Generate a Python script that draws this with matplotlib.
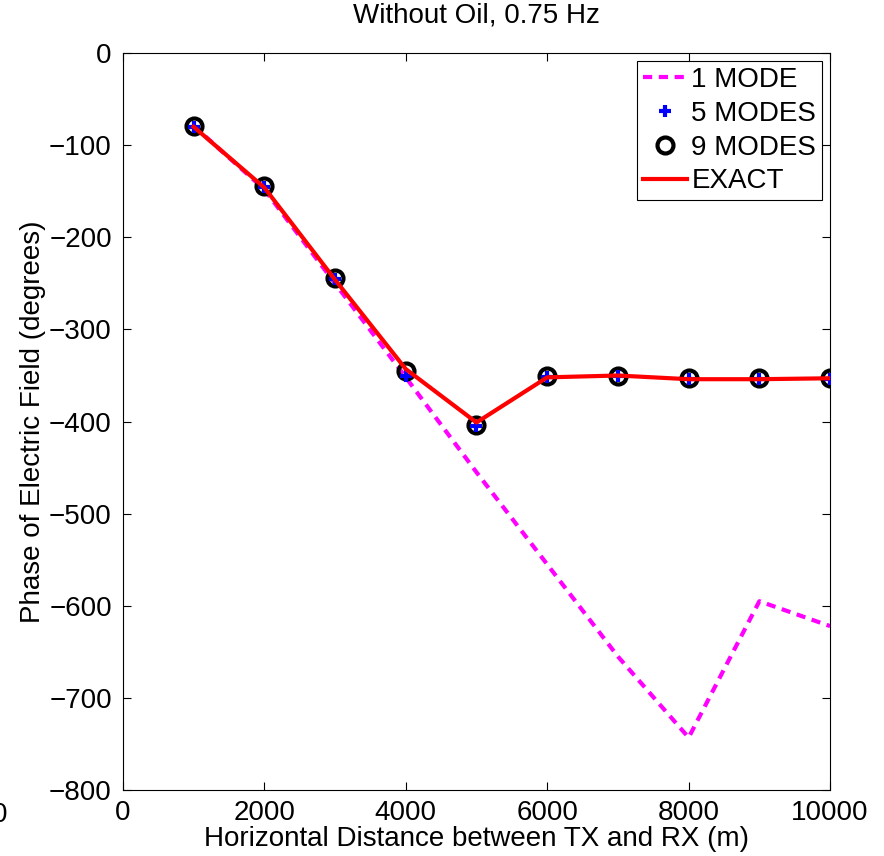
import matplotlib.pyplot as plt
import numpy as np

plt.rcParams['font.family'] = ['Liberation Sans', 'DejaVu Sans']

dist = [1000, 2000, 3000, 4000, 5000, 6000, 7000, 8000, 9000, 10000]
mode1 = [-79, -148, -250, -352, -455, -555, -655, -743, -595, -622]
mode5 = [-80, -145, -245, -350, -405, -352, -351, -354, -354, -354]
mode9 = [-79, -144, -244, -345, -404, -351, -350, -353, -353, -353]
exact = [-80, -146, -246, -343, -401, -352, -350, -354, -354, -353]

xticks = [0, 2000, 4000, 6000, 8000, 10000]
yticks = [0, -100, -200, -300, -400, -500, -600, -700, -800]

fig = plt.figure(figsize=(8.84, 8.56), dpi=100)
ax = fig.add_axes([0.139, 0.077, 0.8, 0.861])

ax.plot(dist, mode1, color='#ff00ff', linestyle=(0, (2.2, 1.6)), linewidth=3, label='1 MODE', zorder=2)
ax.plot(dist, mode5, linestyle='none', marker='+', color='blue', markersize=8, markeredgewidth=3, label='5 MODES', zorder=4)
ax.plot(dist, mode9, linestyle='none', marker='o', markerfacecolor='none', markeredgecolor='black', markersize=11.5, markeredgewidth=3, label='9 MODES', zorder=3)
ax.plot(dist, exact, color='red', linewidth=3, label='EXACT', zorder=5)

ax.set_xlim(0, 10000)
ax.set_ylim(-800, 0)
ax.set_xticks(xticks)
ax.set_yticks(yticks)
ax.set_yticklabels([str(v).replace('-', '\u2212') for v in yticks])
ax.tick_params(direction='in', top=True, right=True, labelsize=20, length=6, width=0.8)
ax.tick_params(axis='x', pad=7)
ax.tick_params(axis='y', pad=8)
for s in ax.spines.values():
    s.set_linewidth(0.8)

ax.set_xlabel('Horizontal Distance between TX and RX (m)', fontsize=20, labelpad=0)
ax.set_ylabel('Phase of Electric Field (degrees)', fontsize=20, labelpad=2)
ax.set_title('Without Oil, 0.75 Hz', fontsize=20, pad=22)

leg = ax.legend(loc='upper right', fontsize=20, fancybox=False, framealpha=1,
                edgecolor='black', borderpad=0.2, labelspacing=0.28,
                handlelength=1.6, handletextpad=0.15, borderaxespad=0.3)
leg.get_frame().set_linewidth(0.8)

fig.text(0.0, 0.048, '0', fontsize=20, ha='center', va='center')

fig.savefig('out.png', dpi=100)
